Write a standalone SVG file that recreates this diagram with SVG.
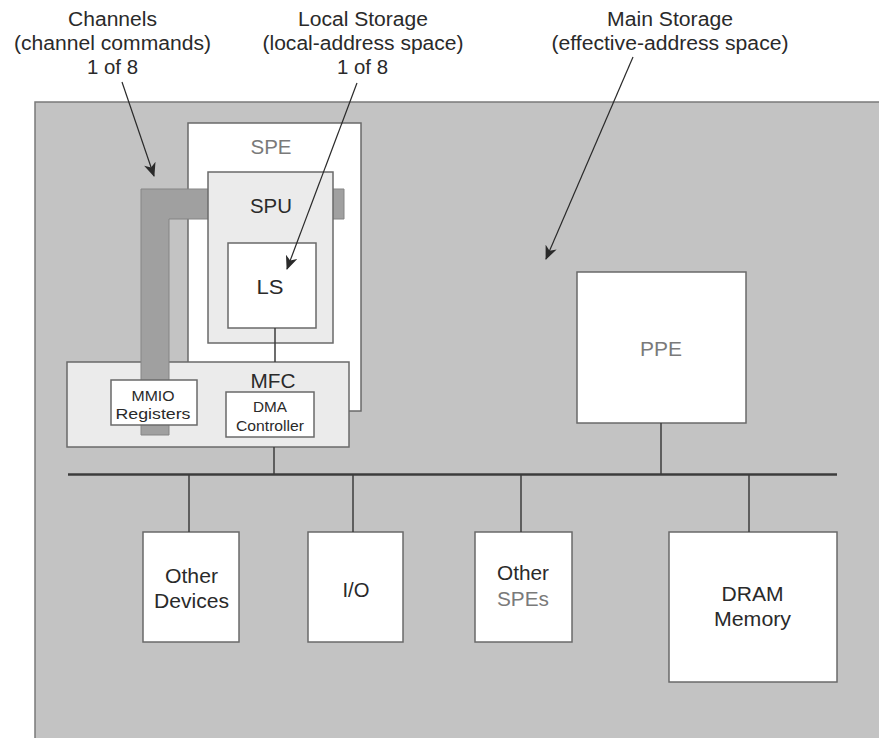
<svg xmlns="http://www.w3.org/2000/svg" width="879" height="738" viewBox="0 0 879 738">
<style>
text{font-family:"Liberation Sans",Arial,sans-serif;fill:#2a2a2a;text-anchor:middle}
.lbl{font-size:19.5px}
.big{font-size:19.5px}
.small{font-size:14.5px}
.gray{fill:#7a7a7a}
.box{fill:#fff;stroke:#6a6a6a;stroke-width:1.5}
.lt{fill:#ebebeb;stroke:#6a6a6a;stroke-width:1.5}
.wire{stroke:#3c3c3c;stroke-width:1.5;fill:none}
.bus{stroke:#3c3c3c;stroke-width:2.5;fill:none}
.ptr{stroke:#2a2a2a;stroke-width:1.2;fill:none;marker-end:url(#ah)}
</style>
<defs>
<marker id="ah" markerUnits="userSpaceOnUse" markerWidth="14" markerHeight="12" viewBox="0 0 14 12" refX="13" refY="6" orient="auto">
<path d="M0,0 L14,6 L0,12 L4,6 z" fill="#2a2a2a"/>
</marker>
</defs>
<rect id="main-storage" x="35" y="102" width="860" height="660" fill="#c3c3c3" stroke="#7a7a7a" stroke-width="1.5"/>

<g id="labels">
<text class="lbl" x="112.5" y="26" textLength="89" lengthAdjust="spacingAndGlyphs">Channels</text>
<text class="lbl" x="112.5" y="50" textLength="197" lengthAdjust="spacingAndGlyphs">(channel commands)</text>
<text class="lbl" x="112.5" y="74" textLength="51" lengthAdjust="spacingAndGlyphs">1 of 8</text>
<text class="lbl" x="363" y="26" textLength="130" lengthAdjust="spacingAndGlyphs">Local Storage</text>
<text class="lbl" x="363" y="50" textLength="201" lengthAdjust="spacingAndGlyphs">(local-address space)</text>
<text class="lbl" x="362.5" y="74" textLength="51" lengthAdjust="spacingAndGlyphs">1 of 8</text>
<text class="lbl" x="670" y="26" textLength="126" lengthAdjust="spacingAndGlyphs">Main Storage</text>
<text class="lbl" x="670" y="50" textLength="237" lengthAdjust="spacingAndGlyphs">(effective-address space)</text>
</g>

<g id="spe">
<rect class="box" x="188" y="123" width="173" height="288"/>
<text class="big gray" x="271" y="154" textLength="41" lengthAdjust="spacingAndGlyphs">SPE</text>
</g>

<g id="mfc">
<rect class="lt" x="67" y="362" width="282" height="85"/>
<text class="big" x="273" y="388" font-size="20.5" textLength="45" lengthAdjust="spacingAndGlyphs">MFC</text>
</g>

<g id="channel-bar">
<polygon points="141,189 344,189 344,219 169,219 169,435 141,435" fill="#a0a0a0" stroke="#858585" stroke-width="1"/>
</g>

<g id="spu">
<rect class="lt" x="208" y="172" width="125" height="171"/>
<text class="big" x="271" y="213" textLength="42" lengthAdjust="spacingAndGlyphs">SPU</text>
</g>

<g id="ls">
<rect class="box" x="228" y="243" width="88" height="85"/>
<text class="big" x="270" y="294" textLength="27" lengthAdjust="spacingAndGlyphs">LS</text>
</g>

<g id="mmio">
<rect class="box" x="111" y="380" width="86" height="45"/>
<text class="small" x="153" y="401" textLength="43" lengthAdjust="spacingAndGlyphs">MMIO</text>
<text class="small" x="153" y="419" textLength="75" lengthAdjust="spacingAndGlyphs">Registers</text>
</g>

<g id="dma">
<rect class="box" x="226" y="392" width="88" height="45"/>
<text class="small" x="270" y="412" textLength="34" lengthAdjust="spacingAndGlyphs">DMA</text>
<text class="small" x="270" y="431" textLength="68" lengthAdjust="spacingAndGlyphs">Controller</text>
</g>

<g id="ppe">
<rect class="box" x="577" y="272" width="169" height="151"/>
<text class="big gray" x="661" y="356" font-size="21" textLength="42" lengthAdjust="spacingAndGlyphs">PPE</text>
</g>

<g id="other-devices">
<rect class="box" x="143" y="532" width="96" height="110"/>
<text class="big" x="191.5" y="583" textLength="53" lengthAdjust="spacingAndGlyphs">Other</text>
<text class="big" x="191.5" y="608" textLength="75" lengthAdjust="spacingAndGlyphs">Devices</text>
</g>

<g id="io">
<rect class="box" x="308" y="532" width="95" height="110"/>
<text class="big" x="356" y="597" textLength="27" lengthAdjust="spacingAndGlyphs">I/O</text>
</g>

<g id="other-spes">
<rect class="box" x="475" y="532" width="97" height="110"/>
<text class="big" x="523" y="580" textLength="52" lengthAdjust="spacingAndGlyphs">Other</text>
<text class="big gray" x="523" y="606" textLength="52" lengthAdjust="spacingAndGlyphs">SPEs</text>
</g>

<g id="dram">
<rect class="box" x="669" y="532" width="168" height="150"/>
<text class="big" x="752.5" y="601" textLength="62" lengthAdjust="spacingAndGlyphs">DRAM</text>
<text class="big" x="752.5" y="626" textLength="77" lengthAdjust="spacingAndGlyphs">Memory</text>
</g>

<g id="connectors">
<line class="wire" x1="275" y1="328" x2="275" y2="362"/>
<line class="bus" x1="68" y1="474.5" x2="837" y2="474.5"/>
<line class="wire" x1="274" y1="447" x2="274" y2="474"/>
<line class="wire" x1="661" y1="423" x2="661" y2="474"/>
<line class="wire" x1="189" y1="475" x2="189" y2="532"/>
<line class="wire" x1="353" y1="475" x2="353" y2="532"/>
<line class="wire" x1="521" y1="475" x2="521" y2="532"/>
<line class="wire" x1="749" y1="475" x2="749" y2="532"/>
<line class="ptr" x1="122" y1="82" x2="154" y2="176"/>
<line class="ptr" x1="357" y1="83" x2="287" y2="269"/>
<line class="ptr" x1="633" y1="57" x2="546" y2="259"/>
</g>
</svg>
